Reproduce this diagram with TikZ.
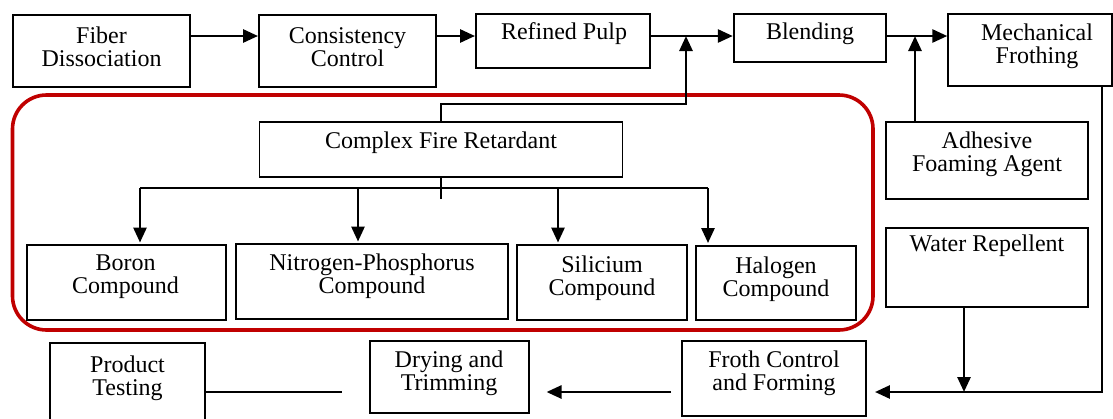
\documentclass[tikz,border=0pt]{standalone}
\usepackage{fontspec}
\setmainfont{Liberation Serif}
\usetikzlibrary{arrows.meta}
\definecolor{frame}{HTML}{C00000}
\tikzset{
  box/.style={draw=black, line width=1.9pt, inner sep=0pt},
  txt/.style={font=\fontsize{24}{23}\selectfont, align=center, inner sep=0pt},
  conn/.style={draw=black, line width=2.7pt},
  arr/.style={conn, -{Triangle[length=15pt,width=13pt]}},
}
\begin{document}
\begin{tikzpicture}[x=1pt,y=-1pt]
\useasboundingbox (0,0) rectangle (1113,418);
% boxes
\node[box, minimum width=177pt, minimum height=72pt] (fiber) at (101.5,51) {};
\node[box, minimum width=177pt, minimum height=72pt] (cons) at (347.5,51) {};
\node[box, minimum width=174pt, minimum height=54pt] (refined) at (563,41) {};
\node[box, minimum width=152.5pt, minimum height=48pt] (blend) at (810,38) {};
\node[box, minimum width=163.5pt, minimum height=72pt] (mech) at (1030,50) {};
\node[box, minimum width=202pt, minimum height=77pt] (adhesive) at (987,160.5) {};
\node[box, minimum width=202pt, minimum height=79pt] (water) at (987,267.5) {};
\node[box, minimum width=363pt, minimum height=55pt] (complex) at (441,149.5) {};
\node[box, minimum width=199pt, minimum height=75pt] (boron) at (126.5,282.5) {};
\node[box, minimum width=272pt, minimum height=75pt] (np) at (372,281.5) {};
\node[box, minimum width=170pt, minimum height=75pt] (sil) at (602,282.5) {};
\node[box, minimum width=160pt, minimum height=74pt] (hal) at (776,283) {};
\node[box, minimum width=184pt, minimum height=75pt] (froth) at (774,378.5) {};
\node[box, minimum width=158.6pt, minimum height=72pt] (drying) at (449.3,377) {};
\node[box, minimum width=155pt, minimum height=77pt] (product) at (127.5,381.5) {};
% texts
\node[txt] (tfiber) at (101.5,47) {Fiber\\Dissociation};
\node[txt] (tcons) at (347.5,47) {Consistency\\Control};
\node[txt] (trefined) at (564,34) {Refined Pulp};
\node[txt] (tblend) at (810,34) {Blending};
\node[txt] (tmech) at (1037,46) {Mechanical\\Frothing};
\node[txt] (tadhesive) at (987,154) {Adhesive\\Foaming Agent};
\node[txt] (twater) at (987,246) {Water Repellent};
\node[txt] (tcomplex) at (441,143) {Complex Fire Retardant};
\node[txt] (tboron) at (125.5,277) {Boron\\Compound};
\node[txt] (tnp) at (372,276) {Nitrogen-Phosphorus\\Compound};
\node[txt] (tsil) at (602,278) {Silicium\\Compound};
\node[txt] (thal) at (776,279) {Halogen\\Compound};
\node[txt] (tfroth) at (774,373) {Froth Control\\and Forming};
\node[txt] (tdrying) at (449,373) {Drying and\\Trimming};
\node[txt] (tproduct) at (127.5,378) {Product\\Testing};
% red frame
\draw[frame, line width=3.6pt, rounded corners=34pt] (12.5,95) rectangle (873,330);
% helper coordinates
\coordinate (row1) at (0,36);
\coordinate (j1) at (686,36);
\coordinate (j2) at (915,36);
\coordinate (row3) at (0,392);
\coordinate (j3) at (964,392);
\coordinate (rt) at (1102,0);
\coordinate (bx1) at (140,188);
\coordinate (bx2) at (358,188);
\coordinate (bx3) at (558,188);
\coordinate (bx4) at (708,188);
\coordinate (pend) at (342,392);
% top row
\draw[arr] (fiber.east |- row1) -- (cons.west |- row1);
\draw[arr] (cons.east |- row1) -- (refined.west |- row1);
\draw[arr] (refined.east |- row1) -- (blend.west |- row1);
\draw[arr] (blend.east |- row1) -- (mech.west |- row1);
% complex fire retardant up to the main line
\draw[arr] (complex.north) -- (complex.north |- 0,104) -| (j1);
% adhesive up
\draw[arr] (adhesive.north -| j2) -- (j2);
% branches
\draw[conn] (complex.south) -- ++(0,21);
\draw[conn] (bx1) -- (bx4);
\draw[arr, shorten >=1.5pt] (bx1) -- (boron.north -| bx1);
\draw[arr, shorten >=1.5pt] (bx2) -- (np.north -| bx2);
\draw[arr, shorten >=1.5pt] (bx3) -- (sil.north -| bx3);
\draw[arr, shorten >=2pt] (bx4) -- (hal.north -| bx4);
% right return path
\draw[arr, shorten >=8pt] (mech.south -| rt) |- (froth.east |- row3);
\draw[arr] (water.south -| j3) -- (j3);
% bottom row
\draw[arr, shorten <=10pt, shorten >=17pt] (froth.west |- row3) -- (drying.east |- row3);
\draw[conn] (product.east |- row3) -- (pend);
\end{tikzpicture}
\end{document}
